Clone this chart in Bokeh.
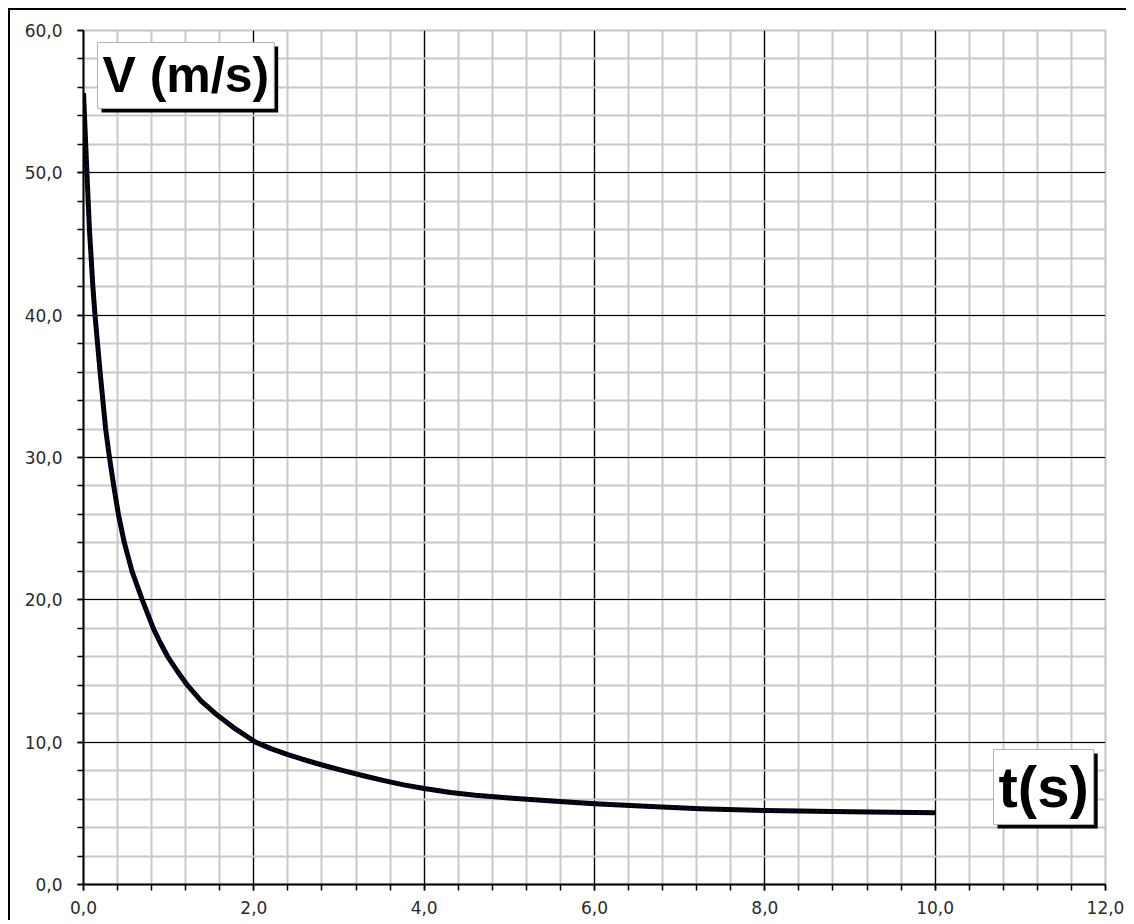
import numpy as np
from bokeh.plotting import figure
from bokeh.models import FixedTicker, Range1d, Label, Spacer
from bokeh.layouts import column, row
from bokeh.embed import file_html
from bokeh.resources import INLINE

# ---- data ----
t_s = [0.0, 0.02, 0.04, 0.07, 0.11, 0.135, 0.195, 0.26, 0.305, 0.355, 0.41, 0.48,
       0.57, 0.69, 0.82, 0.9, 0.99, 1.1, 1.22, 1.38, 1.55, 1.78, 2.02, 2.2, 2.4,
       2.57, 2.74, 2.9, 3.05, 3.3, 3.53, 3.76, 4.0, 4.31, 4.6, 5.0, 5.5, 6.0,
       6.6, 7.24, 8.0, 9.0, 10.0]
v_ms = [55.6, 52.8, 50.0, 46.0, 42.0, 40.0, 36.0, 32.0, 30.0, 28.0, 26.0, 24.0,
        22.0, 20.0, 18.0, 17.0, 16.0, 15.0, 14.0, 12.9, 12.0, 10.95, 10.0, 9.55, 9.13,
        8.8, 8.5, 8.24, 8.0, 7.62, 7.3, 7.0, 6.74, 6.46, 6.27, 6.07, 5.86, 5.68,
        5.5, 5.33, 5.2, 5.11, 5.04]

x_ticks = [0.0, 2.0, 4.0, 6.0, 8.0, 10.0, 12.0]
x_tick_labels = ["0,0", "2,0", "4,0", "6,0", "8,0", "10,0", "12,0"]
y_ticks = [0.0, 10.0, 20.0, 30.0, 40.0, 50.0, 60.0]
y_tick_labels = ["0,0", "10,0", "20,0", "30,0", "40,0", "50,0", "60,0"]
y_title = "V (m/s)"
x_title = "t(s)"

x_minor = [round(v, 2) for v in np.arange(0, 12.001, 0.4)]
y_minor = [round(v, 2) for v in np.arange(0, 60.001, 2.0)]

p = figure(width=1118, height=912,
           x_range=Range1d(0, 12), y_range=Range1d(0, 60),
           output_backend="svg", toolbar_location=None,
           min_border_left=73, min_border_top=20, min_border_right=23,
           min_border_bottom=38)
p.styles = {"border-top": "2px solid black", "border-left": "2px solid black"}
p.background_fill_color = "white"
p.border_fill_color = "white"
p.outline_line_color = "#c4c4c4"
p.outline_line_width = 2

# axes
for ax, ticks, labels, minor in ((p.xaxis[0], x_ticks, x_tick_labels, x_minor),
                                 (p.yaxis[0], y_ticks, y_tick_labels, y_minor)):
    ax.ticker = FixedTicker(ticks=ticks, minor_ticks=minor)
    ax.major_label_overrides = dict(zip(ticks, labels))
    ax.axis_line_color = "black"
    ax.axis_line_width = 2
    ax.major_tick_line_color = "black"
    ax.minor_tick_line_color = "black"
    ax.major_tick_line_width = 1.5
    ax.minor_tick_line_width = 1.5
    ax.major_tick_in = 0
    ax.minor_tick_in = 0
    ax.major_tick_out = 6
    ax.minor_tick_out = 6
    ax.major_label_text_font = "DejaVu Sans"
    ax.major_label_text_font_size = "17px"
    ax.major_label_text_color = "#2a2a2a"
p.yaxis[0].major_label_standoff = 15
p.xaxis[0].major_label_standoff = 10

# grids (edge lines drawn by the gray outline)
p.xgrid.ticker = FixedTicker(ticks=x_ticks[:-1], minor_ticks=x_minor[:-1])
p.ygrid.ticker = FixedTicker(ticks=y_ticks[:-1], minor_ticks=y_minor[:-1])
for g in (p.xgrid[0], p.ygrid[0]):
    g.grid_line_color = "black"
    g.grid_line_width = 1.2
    g.minor_grid_line_color = "#c8c8c8"
    g.minor_grid_line_width = 2
    g.level = "underlay"

# curve
p.line(t_s, v_ms, line_color="black", line_width=5, line_join="round")
p.line(t_s, v_ms, line_color="#0a0a80", line_width=1.5, line_dash="2 4")

# boxed titles with shadow
def boxed(x, y, text, size, pad):
    sh = Label(x=x, y=y, text=text, x_offset=4, y_offset=-4,
               text_font="Liberation Sans", text_font_style="bold",
               text_font_size=size, text_align="left", text_baseline="top",
               text_color="black", background_fill_color="black",
               padding=pad)
    fg = Label(x=x, y=y, text=text,
               text_font="Liberation Sans", text_font_style="bold",
               text_font_size=size, text_align="left", text_baseline="top",
               text_color="black", background_fill_color="white",
               border_line_color="#b0b0b0", border_line_width=1,
               padding=pad)
    p.add_layout(sh)
    p.add_layout(fg)

boxed(0.164, 59.16, y_title, "50px", 5)
boxed(10.685, 9.49, x_title, "58px", 5)

layout = column(Spacer(height=8, width=1128),
                row(Spacer(width=8, height=914), p))
open("out.html", "w").write(file_html(layout, INLINE))
